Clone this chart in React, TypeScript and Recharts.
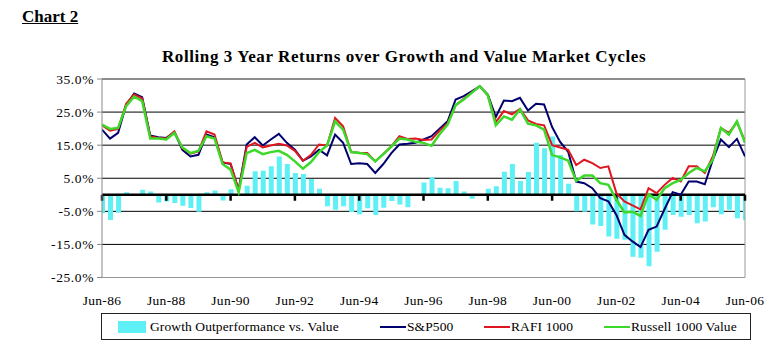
import React from "react";
import { ComposedChart, Bar, Line, XAxis, YAxis, CartesianGrid, ReferenceLine } from "recharts";

const quarters = [
  "Jun-86","Sep-86","Dec-86","Mar-87","Jun-87","Sep-87","Dec-87","Mar-88",
  "Jun-88","Sep-88","Dec-88","Mar-89","Jun-89","Sep-89","Dec-89","Mar-90",
  "Jun-90","Sep-90","Dec-90","Mar-91","Jun-91","Sep-91","Dec-91","Mar-92",
  "Jun-92","Sep-92","Dec-92","Mar-93","Jun-93","Sep-93","Dec-93","Mar-94",
  "Jun-94","Sep-94","Dec-94","Mar-95","Jun-95","Sep-95","Dec-95","Mar-96",
  "Jun-96","Sep-96","Dec-96","Mar-97","Jun-97","Sep-97","Dec-97","Mar-98",
  "Jun-98","Sep-98","Dec-98","Mar-99","Jun-99","Sep-99","Dec-99","Mar-00",
  "Jun-00","Sep-00","Dec-00","Mar-01","Jun-01","Sep-01","Dec-01","Mar-02",
  "Jun-02","Sep-02","Dec-02","Mar-03","Jun-03","Sep-03","Dec-03","Mar-04",
  "Jun-04","Sep-04","Dec-04","Mar-05","Jun-05","Sep-05","Dec-05","Mar-06",
  "Jun-06",
];

const tickLabels = ["Jun-86","Jun-88","Jun-90","Jun-92","Jun-94","Jun-96","Jun-98","Jun-00","Jun-02","Jun-04","Jun-06"];
const yTicks = [35, 25, 15, 5, -5, -15, -25];

const growthVsValue = [
  -5.6, -7.6, -5.4, 0.8, -0.3, 1.5, 1.0, -2.3,
  -2.0, -2.5, -3.3, -4.0, -5.1, 0.8, 1.3, -1.7,
  1.7, 0.3, 2.7, 7.1, 7.3, 8.6, 11.6, 9.3,
  6.6, 6.3, 4.8, 1.8, -3.5, -4.5, -3.5, -5.2,
  -5.9, -4.1, -6.1, -3.9, -1.9, -2.9, -3.8, 0.0,
  3.7, 5.3, 2.1, 2.0, 4.2, 1.0, -1.2, 0.0,
  1.8, 2.6, 7.0, 9.3, 4.2, 6.9, 15.7, 14.1,
  17.6, 12.0, 3.3, -5.0, -5.1, -9.0, -9.4, -12.6,
  -13.3, -13.6, -18.7, -19.0, -21.6, -17.2, -10.6, -6.1,
  -6.6, -6.1, -8.6, -8.1, -3.8, -5.9, -4.5, -7.1,
  -7.6,
];

const sp500 = [
  19.7, 17.0, 18.7, 27.1, 30.6, 29.5, 17.9, 17.4,
  17.2, 19.0, 13.6, 11.6, 12.1, 18.2, 17.4, 9.8,
  9.3, 1.5, 15.2, 17.4, 14.9, 16.7, 18.4, 15.7,
  13.6, 10.3, 11.6, 13.6, 11.9, 18.2, 15.7, 9.3,
  9.5, 9.3, 6.6, 9.3, 12.6, 15.2, 15.4, 15.7,
  16.7, 17.7, 20.0, 22.2, 28.8, 29.8, 31.3, 32.8,
  30.3, 23.5, 28.5, 28.3, 29.3, 25.5, 27.5, 27.3,
  20.5, 16.0, 13.0, 4.0, 3.5, 2.0, -1.0, -2.0,
  -6.1, -12.1, -14.1, -15.8, -10.6, -9.6, -4.3, 0.8,
  0.0, 4.0, 4.0, 3.2, 10.6, 16.7, 14.4, 16.9,
  11.6,
];

const rafi1000 = [
  21.0, 19.4, 19.9, 27.5, 30.3, 29.1, 17.6, 17.2,
  17.0, 19.2, 14.1, 12.4, 13.1, 19.2, 18.2, 9.8,
  9.5, 1.3, 14.5, 15.7, 14.3, 14.9, 15.4, 14.9,
  13.3, 10.3, 12.1, 15.2, 14.9, 23.2, 20.7, 12.9,
  12.7, 12.6, 10.1, 12.3, 14.6, 17.7, 16.9, 17.0,
  16.6, 16.7, 19.4, 21.6, 27.1, 29.0, 30.9, 32.8,
  30.1, 22.0, 25.3, 24.3, 26.0, 22.5, 21.4, 21.0,
  15.0, 14.3, 13.6, 9.0, 10.6, 9.6, 8.1, 8.6,
  0.5, -2.0, -3.2, -4.4, 2.0, 0.5, 3.0, 5.1,
  4.0, 8.6, 8.6, 6.6, 11.6, 20.2, 18.7, 21.9,
  16.2,
];

const russell1000Value = [
  21.2, 19.9, 20.2, 26.8, 29.7, 28.3, 17.0, 17.0,
  16.7, 18.7, 14.3, 12.6, 13.3, 17.7, 17.0, 9.3,
  7.6, 0.8, 12.6, 13.6, 12.3, 12.9, 13.3, 12.1,
  10.1, 7.9, 9.9, 12.9, 14.9, 22.2, 19.7, 12.9,
  12.6, 12.3, 10.1, 12.3, 14.6, 17.0, 16.7, 16.0,
  15.7, 14.8, 18.3, 21.2, 27.1, 28.8, 30.8, 32.8,
  30.1, 21.0, 23.7, 22.7, 25.8, 21.5, 21.0, 19.7,
  12.0, 11.3, 10.3, 4.2, 5.8, 5.8, 3.5, 3.0,
  -1.5, -5.3, -5.1, -6.4, 0.2, -1.5, 2.0, 3.5,
  4.5, 6.6, 8.1, 7.1, 10.6, 20.2, 18.2, 22.2,
  15.7,
];

const seriesNames = ["Growth Outperformance vs. Value", "S&P500", "RAFI 1000", "Russell 1000 Value"];

const C_BAR = "#5EF0F5";
const C_SP = "#00006E";
const C_RAFI = "#E0161E";
const C_RV = "#3CD82A";
const FONT = '"Liberation Serif", "Times New Roman", serif';

const W = 770;
const H = 360;

export default function App() {
  const data = quarters.map((q, i) => ({
    x: i,
    q,
    growth: growthVsValue[i],
    sp: sp500[i],
    rafi: rafi1000[i],
    rv: russell1000Value[i],
  }));
  const tickIdx = tickLabels.map((l) => quarters.indexOf(l));
  const lastIdx = quarters.length - 1;

  const legendItem = (left: number, kind: "box" | "line", color: string, label: string) => (
    <div style={{ position: "absolute", left, top: 0, height: 26, display: "flex", alignItems: "center" }}>
      {kind === "box" ? (
        <div style={{ width: 28, height: 12, background: color, marginRight: 4 }} />
      ) : (
        <div style={{ width: 26, height: 2.5, background: color, marginRight: 1 }} />
      )}
      <span style={{ fontSize: 13.5, letterSpacing: 0.1, whiteSpace: "nowrap", color: "#000" }}>{label}</span>
    </div>
  );

  return (
    <div style={{ position: "absolute", left: 0, top: 0, width: W, height: H, background: "#fff", fontFamily: FONT, overflow: "hidden" }}>
      <div style={{ position: "absolute", left: 22, top: 7, fontWeight: "bold", fontSize: 17, textDecoration: "underline", whiteSpace: "nowrap" }}>
        Chart 2
      </div>
      <div style={{ position: "absolute", left: 404, top: 47, transform: "translateX(-50%)", fontWeight: "bold", fontSize: 17, letterSpacing: 0.6, whiteSpace: "nowrap" }}>
        Rolling 3 Year Returns over Growth and Value Market Cycles
      </div>
      <div style={{ position: "absolute", left: 0, top: 0 }}>
        <ComposedChart width={W} height={H} data={data} margin={{ top: 79, right: 25, bottom: 52.5, left: 42 }}>
          <CartesianGrid horizontal vertical={false} stroke="#000" strokeWidth={1} />
          <XAxis
            type="number"
            dataKey="x"
            domain={[0, lastIdx]}
            ticks={tickIdx}
            interval={0}
            allowDataOverflow
            tickFormatter={(v: number) => quarters[v]}
            axisLine={false}
            tickLine={false}
            tickSize={0}
            tickMargin={18}
            height={30}
            tick={{ fill: "#000", fontSize: 13.5, fontFamily: FONT, letterSpacing: 0.3 }}
          />
          <YAxis
            type="number"
            domain={[-25, 35]}
            ticks={yTicks}
            interval={0}
            allowDataOverflow
            tickFormatter={(v: number) => v.toFixed(1) + "%"}
            width={60}
            axisLine={{ stroke: "#888" }}
            tickLine={{ stroke: "#888" }}
            tickSize={5}
            tickMargin={3}
            tick={{ fill: "#000", fontSize: 13.5, fontFamily: FONT, letterSpacing: 0.6 }}
          />
          <Bar dataKey="growth" name={seriesNames[0]} fill={C_BAR} barSize={5} isAnimationActive={false} />
          <ReferenceLine y={35} stroke="#999" />
          <ReferenceLine y={-25} stroke="#999" />
          <ReferenceLine x={lastIdx} stroke="#999" />
          <ReferenceLine y={0} stroke="#000" strokeWidth={2.5} />
          {tickIdx.map((t) => (
            <ReferenceLine key={t} segment={[{ x: t, y: 0 }, { x: t, y: -1.8 }]} stroke="#000" strokeWidth={2.5} />
          ))}
          <Line dataKey="sp" name={seriesNames[1]} stroke={C_SP} strokeWidth={2} dot={false} isAnimationActive={false} />
          <Line dataKey="rafi" name={seriesNames[2]} stroke={C_RAFI} strokeWidth={2} dot={false} isAnimationActive={false} />
          <Line dataKey="rv" name={seriesNames[3]} stroke={C_RV} strokeWidth={2.5} dot={false} isAnimationActive={false} />
        </ComposedChart>
      </div>
      <div style={{ position: "absolute", left: 101, top: 313, width: 650, height: 27, border: "1px solid #222", boxSizing: "border-box" }}>
        {legendItem(16, "box", C_BAR, seriesNames[0])}
        {legendItem(278, "line", C_SP, seriesNames[1])}
        {legendItem(382, "line", C_RAFI, seriesNames[2])}
        {legendItem(502, "line", C_RV, seriesNames[3])}
      </div>
    </div>
  );
}
